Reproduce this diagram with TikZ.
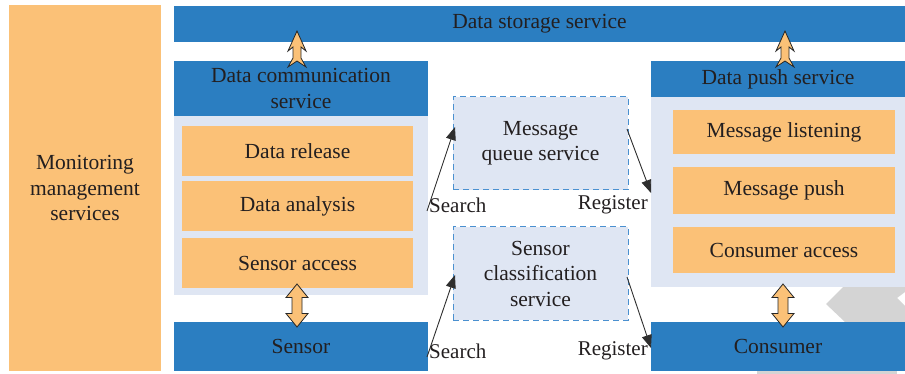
\documentclass[tikz,border=0pt]{standalone}
\usepackage{fontspec}
\setmainfont{Liberation Serif}
\usetikzlibrary{arrows.meta,calc}
\definecolor{cblue}{HTML}{2B7EC1}
\definecolor{corange}{HTML}{FBC177}
\definecolor{clight}{HTML}{DFE6F3}
\definecolor{cdash}{HTML}{4A90D0}
\definecolor{ctext}{HTML}{231F20}
\definecolor{cgray}{HTML}{D4D4D4}
\tikzset{
  box/.style={inner sep=0pt, outer sep=0pt, align=center, text=ctext, font=\fontsize{21.5}{25.5}\selectfont},
  bluebox/.style={box, fill=cblue},
  orangebox/.style={box, fill=corange},
  lightbox/.style={box, fill=clight},
  dashbox/.style={box, fill=clight, draw=cdash, dash pattern=on 6pt off 4pt, line width=1pt},
  lbl/.style={inner sep=0pt, text=ctext, font=\fontsize{21}{22}\selectfont},
  conn/.style={line width=0.9pt, -{Triangle[length=13pt,width=10pt]}, color=black!82},
  arrowfill/.style={fill=corange, draw=black!85, line width=0.8pt, line join=miter},
  uparrow/.pic={\path[arrowfill] (0,0) -- (9,20) -- (4,16) -- (4,27) -- (9,36) -- (0,30) -- (-9,36) -- (-4,27) -- (-4,16) -- (-9,20) -- cycle;},
  dblarrow/.pic={\path[arrowfill] (0,-21.5) -- (11,-8) -- (5,-8) -- (5,8) -- (11,8) -- (0,21.5) -- (-11,8) -- (-5,8) -- (-5,-8) -- (-11,-8) -- cycle;}
}
\begin{document}
\begin{tikzpicture}[x=1pt,y=-1pt]
\useasboundingbox (0,0) rectangle (905,374);
% background grey chevron (partially hidden)
\fill[cgray] (843,287) -- (905,287) -- (905,292) -- (897,298) -- (905,306) -- (905,322) -- (845,322) -- (826,304) -- cycle;
\fill[cgray] (757,371) rectangle (897,374);
% left column
\node[orangebox, minimum width=152pt, minimum height=366pt] (mon) at (85,188) {Monitoring\\management\\services};
% top bar
\node[bluebox, minimum width=731pt, minimum height=36pt] (store) at (539.5,24) {Data storage service};
% left stack
\node[bluebox, minimum width=254pt, minimum height=55pt] (dch) at (301,88.5) {Data communication\\service};
\node[lightbox, minimum width=254pt, minimum height=179pt] (dcp) at (301,205.5) {};
\node[orangebox, minimum width=231pt, minimum height=50pt] (rel) at (297.5,151) {Data release};
\node[orangebox, minimum width=231pt, minimum height=50pt] (ana) at (297.5,206) {Data analysis};
\node[orangebox, minimum width=231pt, minimum height=50pt] (sac) at (297.5,263) {Sensor access};
\node[bluebox, minimum width=254pt, minimum height=49pt] (sen) at (301,346.5) {Sensor};
% right stack
\node[bluebox, minimum width=254pt, minimum height=36pt] (dph) at (778,79) {Data push service};
\node[lightbox, minimum width=254pt, minimum height=190pt] (dpp) at (778,192) {};
\node[orangebox, minimum width=222pt, minimum height=44pt] (mls) at (784,132) {Message listening};
\node[orangebox, minimum width=222pt, minimum height=47pt] (mps) at (784,190.5) {Message push};
\node[orangebox, minimum width=222pt, minimum height=46pt] (cac) at (784,250) {Consumer access};
\node[bluebox, minimum width=254pt, minimum height=49pt] (con) at (778,346.5) {Consumer};
% middle dashed boxes
\node[dashbox, minimum width=175pt, minimum height=93pt] (mq) at (540.5,143.5) {Message\\queue service};
\node[dashbox, minimum width=175pt, minimum height=93pt] (sc) at (540.5,273.5) {Sensor\\classification\\service};
% labels
\node[lbl, anchor=west] (s1) at (429,205) {Search};
\node[lbl, anchor=east] (r1) at (648,205) {Register};
\node[lbl, anchor=west] (s2) at (429,351) {Search};
\node[lbl, anchor=east] (r2) at (648,351) {Register};
% connector endpoints
\coordinate (s1a) at (427,211);
\coordinate (s1b) at (455,127);
\coordinate (r1a) at (627,129);
\coordinate (r1b) at (651,193);
\coordinate (s2a) at (427,357);
\coordinate (s2b) at (455,275);
\coordinate (r2a) at (627,277);
\coordinate (r2b) at (651,348);
\draw[conn] (s1a) -- (s1b);
\draw[conn] (r1a) -- (r1b);
\draw[conn] (s2a) -- (s2b);
\draw[conn] (r2a) -- (r2b);
% block arrows
\pic at (297,31) {uparrow};
\pic at (785,31) {uparrow};
\pic at (297,305.5) {dblarrow};
\pic at (783,305.5) {dblarrow};
\end{tikzpicture}
\end{document}
